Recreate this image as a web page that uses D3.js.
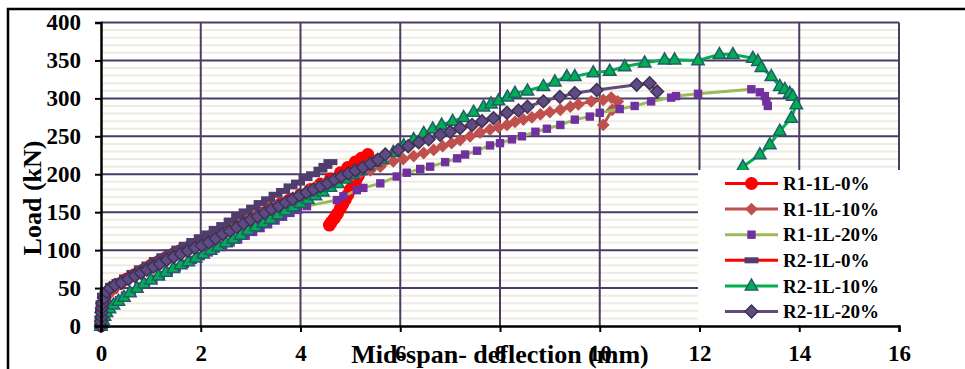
<!DOCTYPE html>
<html>
<head>
<meta charset="utf-8">
<script src="https://cdn.jsdelivr.net/npm/d3@7"></script>
<style>
  body { margin: 0; background: #fff; }
  svg { display: block; font-family: 'Liberation Serif', 'Times New Roman', serif; font-weight: bold; }
</style>
</head>
<body>
<div id="chart"></div>
<script>
// ... chart values: [deflection (mm), load (kN)]

const xTicks = [0, 2, 4, 6, 8, 10, 12, 14, 16];
const yTicks = [0, 50, 100, 150, 200, 250, 300, 350, 400];
const yMinorTicks = d3.range(0, 401, 10);

const seriesNames = ['R1-1L-0%', 'R1-1L-10%', 'R1-1L-20%', 'R2-1L-0%', 'R2-1L-10%', 'R2-1L-20%'];

const r1_0 = [[0,0],[0.01,10],[0.02,20],[0.04,30],[0.08,38],[0.15,45],[0.25,50],[0.38,56],[0.52,62],[0.68,68],
  [0.85,74],[1.0,80],[1.15,85],[1.3,90],[1.45,95],[1.6,100],[1.8,106],[2.0,112],[2.2,118],[2.4,125],
  [2.6,131],[2.8,137],[3.0,143],[3.2,149],[3.4,155],[3.6,161],[3.8,167],[4.0,173],[4.2,180],[4.4,187],
  [4.6,194],[4.8,202],[4.95,209],[5.1,216],[5.22,221],[5.35,226],[5.3,219],[5.26,212],[5.21,205],[5.16,198],
  [5.11,192],[5.06,186],[5.0,180],[4.95,173],[4.9,167],[4.85,161],[4.8,155],[4.74,148],[4.68,142],[4.62,137],[4.58,133]];

const r1_10 = [[0,0],[0.01,8],[0.02,16],[0.04,24],[0.07,32],[0.12,40],[0.2,46],[0.3,51],[0.42,56],[0.55,61],
  [0.7,66],[0.85,72],[1.0,77],[1.15,82],[1.3,87],[1.45,92],[1.6,97],[1.75,101],[1.9,106],[2.05,111],
  [2.2,116],[2.35,121],[2.5,126],[2.65,131],[2.8,136],[2.95,141],[3.1,146],[3.25,150],[3.4,155],[3.55,160],
  [3.7,164],[3.85,169],[4.0,173],[4.15,178],[4.3,182],[4.45,186],[4.6,190],[4.75,193],[4.9,196],[5.05,199],
  [5.2,202],[5.4,205],[5.6,210],[5.86,217],[6.06,220],[6.27,224],[6.47,228],[6.67,232],[6.85,237],[7.03,241],
  [7.2,245],[7.4,250],[7.6,255],[7.8,259],[7.97,262],[8.14,265],[8.3,269],[8.47,272],[8.64,275],[8.81,279],
  [9.0,282],[9.21,285],[9.41,289],[9.57,292],[9.83,296],[10.07,298],[10.23,301],[10.36,296],[10.25,285],[10.07,265]];

const r1_20 = [[0,0],[0.02,4],[0.04,9],[0.07,14],[0.11,19],[0.17,24],[0.25,29],[0.36,34],[0.48,40],[0.62,46],
  [0.76,52],[0.9,57],[1.05,62],[1.2,67],[1.36,72],[1.52,77],[1.68,82],[1.84,87],[2.0,92],[2.16,97],
  [2.3,102],[2.45,106],[2.6,110],[2.75,114],[2.9,119],[3.05,124],[3.2,129],[3.35,134],[3.5,139],[3.65,144],
  [3.8,149],[3.95,153],[4.13,158],[4.73,166],[4.86,171],[5.13,179],[5.26,182],[5.6,188],[5.93,197],[6.13,202],
  [6.4,207],[6.6,210],[6.9,216],[7.14,221],[7.3,226],[7.54,231],[7.8,238],[8.0,241],[8.24,246],[8.44,250],
  [8.71,256],[8.94,260],[9.21,265],[9.5,272],[9.8,276],[10.0,281],[10.4,286],[10.7,290],[11.03,296],[11.43,301],
  [11.53,303],[11.97,306],[13.04,312],[13.21,308],[13.31,303],[13.34,296],[13.37,290]];

const r2_0 = [[0,0],[0.01,10],[0.02,20],[0.03,30],[0.06,40],[0.12,47],[0.22,53],[0.35,58],[0.5,64],[0.65,70],
  [0.8,76],[0.95,81],[1.1,87],[1.25,92],[1.4,97],[1.55,102],[1.7,107],[1.85,112],[2.0,117],[2.15,122],
  [2.3,128],[2.45,133],[2.6,139],[2.75,145],[2.9,151],[3.05,156],[3.2,162],[3.35,167],[3.5,173],[3.65,178],
  [3.8,184],[3.95,189],[4.1,195],[4.25,200],[4.4,206],[4.5,211],[4.6,216]];

const r2_10 = [[0,0],[0.02,4],[0.04,8],[0.07,13],[0.11,18],[0.17,23],[0.25,28],[0.35,33],[0.46,38],[0.58,44],
  [0.72,50],[0.86,56],[1.0,61],[1.15,66],[1.3,71],[1.45,76],[1.6,81],[1.75,85],[1.9,90],[2.05,95],
  [2.2,100],[2.35,105],[2.5,110],[2.65,115],[2.8,120],[2.95,126],[3.1,131],[3.25,136],[3.4,141],[3.55,147],
  [3.7,152],[3.85,157],[4.0,162],[4.15,167],[4.3,172],[4.45,177],[4.6,183],[4.75,188],[4.9,194],[5.05,200],
  [5.2,205],[5.35,211],[5.5,216],[5.63,220],[5.86,229],[6.07,238],[6.27,246],[6.47,254],[6.65,260],[6.83,265],
  [7.05,270],[7.27,275],[7.47,282],[7.67,289],[7.82,293],[7.97,297],[8.15,302],[8.3,307],[8.55,310],[8.87,316],
  [9.1,322],[9.34,329],[9.5,329],[9.87,334],[10.2,336],[10.5,342],[10.9,347],[11.3,351],[11.5,351],[11.97,350],
  [12.4,358],[12.67,358],[13.07,353],[13.17,349],[13.24,341],[13.44,329],[13.61,316],[13.71,312],[13.81,307],[13.87,303],
  [13.94,292],[13.84,274],[13.61,257],[13.41,239],[13.21,226],[12.87,210]];

const r2_20 = [[0,0],[0,6],[0.01,12],[0.01,18],[0.02,24],[0.03,30],[0.06,37],[0.11,45],[0.18,50],[0.28,54],
  [0.41,57],[0.55,62],[0.68,66],[0.8,70],[0.92,74],[1.05,78],[1.18,82],[1.32,87],[1.46,91],[1.6,95],
  [1.74,99],[1.88,103],[2.02,106],[2.16,110],[2.3,115],[2.44,121],[2.58,125],[2.72,130],[2.86,135],[3.0,140],
  [3.14,144],[3.28,149],[3.42,154],[3.56,158],[3.7,163],[3.84,167],[3.98,172],[4.12,176],[4.26,180],[4.4,184],
  [4.54,188],[4.68,193],[4.82,197],[4.96,201],[5.1,205],[5.25,209],[5.4,214],[5.55,219],[5.7,226],[5.96,232],
  [6.16,237],[6.37,242],[6.57,246],[6.8,252],[7.0,256],[7.2,261],[7.44,265],[7.64,270],[7.87,274],[8.14,281],
  [8.37,284],[8.55,289],[8.87,296],[9.2,302],[9.5,307],[9.94,311],[10.74,318],[11.0,320],[11.15,309]];

const seriesData = [r1_0, r1_10, r1_20, r2_0, r2_10, r2_20];

// ... look of each series (same order as seriesNames)

const styles = [
  {line: '#ff0000', marker: 'circle', fill: '#ff0000', stroke: 'none'},
  {line: '#c0504d', marker: 'diamond', fill: '#c0504d', stroke: 'none'},
  {line: '#9bbb59', marker: 'square', fill: '#7030a0', stroke: 'none'},
  {line: '#ff0000', marker: 'dash', fill: '#4f3d6b', stroke: 'none'},
  {line: '#00b050', marker: 'triangle', fill: '#00b050', stroke: '#215e6c'},
  {line: '#604a7b', marker: 'diamond', fill: '#5e4b86', stroke: '#3f3151'}
];

const markerShapes = {
  circle: 'M6.5,0A6.5,6.5 0 1,1 -6.5,0A6.5,6.5 0 1,1 6.5,0Z',
  diamond: 'M0,-6.4L6.4,0L0,6.4L-6.4,0Z',
  square: 'M-4.2,-4.2H4.2V4.2H-4.2Z',
  dash: 'M-7,-3H7V3H-7Z',
  triangle: 'M0,-6.8L6.2,4.2L-6.2,4.2Z'
};

const width = 965;
const height = 369;

const x = d3.scaleLinear()
    .domain([0, 16])
    .range([101, 899]);

const y = d3.scaleLinear()
    .domain([0, 400])
    .range([326, 22.5]);

const svg = d3.select('#chart').append('svg')
    .attr('width', width)
    .attr('height', height);

// ... outer frame (runs off the right and bottom of the picture)

svg.append('rect')
    .attr('x', 8)
    .attr('y', 9)
    .attr('width', 1000)
    .attr('height', 400)
    .attr('fill', '#fff')
    .attr('stroke', '#000')
    .attr('stroke-width', 2.5);

// ... grid

const grid = svg.append('g');

grid.selectAll('.minor')
    .data(yMinorTicks.filter(d => d % 50 !== 0))
    .enter().append('line')
    .attr('x1', x(0))
    .attr('x2', x(16))
    .attr('y1', d => y(d))
    .attr('y2', d => y(d))
    .attr('stroke', '#eeece1')
    .attr('stroke-width', 2);

grid.selectAll('.hmajor')
    .data(yTicks.filter(d => d > 0))
    .enter().append('line')
    .attr('x1', x(0))
    .attr('x2', x(16))
    .attr('y1', d => y(d))
    .attr('y2', d => y(d))
    .attr('stroke', '#4a3c63')
    .attr('stroke-width', 2);

grid.selectAll('.vmajor')
    .data(xTicks.filter(d => d > 0))
    .enter().append('line')
    .attr('x1', d => x(d))
    .attr('x2', d => x(d))
    .attr('y1', y(0))
    .attr('y2', y(400))
    .attr('stroke', '#4a3c63')
    .attr('stroke-width', 2);

// ... series, lines first then markers, in legend order

const line = d3.line()
    .x(d => x(d[0]))
    .y(d => y(d[1]));

seriesData.forEach((data, i) => {
    const s = styles[i];
    const g = svg.append('g');

    g.append('path')
        .datum(data)
        .attr('d', line)
        .attr('fill', 'none')
        .attr('stroke', s.line)
        .attr('stroke-width', 3)
        .attr('stroke-linejoin', 'round');

    g.selectAll('.m')
        .data(data)
        .enter().append('path')
        .attr('transform', d => 'translate(' + x(d[0]) + ',' + y(d[1]) + ')')
        .attr('d', markerShapes[s.marker])
        .attr('fill', s.fill)
        .attr('stroke', s.stroke)
        .attr('stroke-width', 1.5);
});

// ... legend box with white background

const legend = svg.append('g');

legend.append('rect')
    .attr('x', 698)
    .attr('y', 170)
    .attr('width', 210)
    .attr('height', 155)
    .attr('fill', '#fff');

seriesNames.forEach((name, i) => {
    const s = styles[i];
    const ly = 183.5 + i * 25.6;

    legend.append('line')
        .attr('x1', 725)
        .attr('x2', 778)
        .attr('y1', ly)
        .attr('y2', ly)
        .attr('stroke', s.line)
        .attr('stroke-width', 3);

    legend.append('path')
        .attr('transform', 'translate(751.5,' + ly + ')')
        .attr('d', markerShapes[s.marker])
        .attr('fill', s.fill)
        .attr('stroke', s.stroke)
        .attr('stroke-width', 1.5);

    legend.append('text')
        .attr('x', 783)
        .attr('y', ly)
        .attr('dy', '0.35em')
        .style('font-size', '19px')
        .text(name);
});

// ... axes

const xAxis = d3.axisBottom(x)
    .tickValues(xTicks)
    .tickSize(6)
    .tickPadding(13)
    .tickFormat(d3.format('d'));

const yAxis = d3.axisLeft(y)
    .tickValues(yTicks)
    .tickSize(6)
    .tickPadding(14)
    .tickFormat(d3.format('d'));

const gx = svg.append('g')
    .attr('transform', 'translate(0,' + y(0) + ')')
    .call(xAxis);

const gy = svg.append('g')
    .attr('transform', 'translate(' + x(0) + ',0)')
    .call(yAxis);

[gx, gy].forEach(g => {
    g.select('.domain')
        .attr('stroke', '#000')
        .attr('stroke-width', 2.5);
    g.selectAll('.tick line')
        .attr('stroke', '#000')
        .attr('stroke-width', 2);
    g.selectAll('.tick text')
        .attr('fill', '#000')
        .style('font-family', "'Liberation Serif', 'Times New Roman', serif")
        .style('font-weight', 'bold')
        .style('font-size', '23px');
});

// ... axis titles (the x title sits on the tick labels, as in the source)

svg.append('text')
    .attr('x', 500)
    .attr('y', 354)
    .attr('dy', '0.33em')
    .style('text-anchor', 'middle')
    .style('font-size', '26px')
    .text('Mid-span- deflection (mm)');

svg.append('text')
    .attr('transform', 'translate(32,198) rotate(-90)')
    .attr('dy', '0.33em')
    .style('text-anchor', 'middle')
    .style('font-size', '26px')
    .text('Load (kN)');
</script>
</body>
</html>
